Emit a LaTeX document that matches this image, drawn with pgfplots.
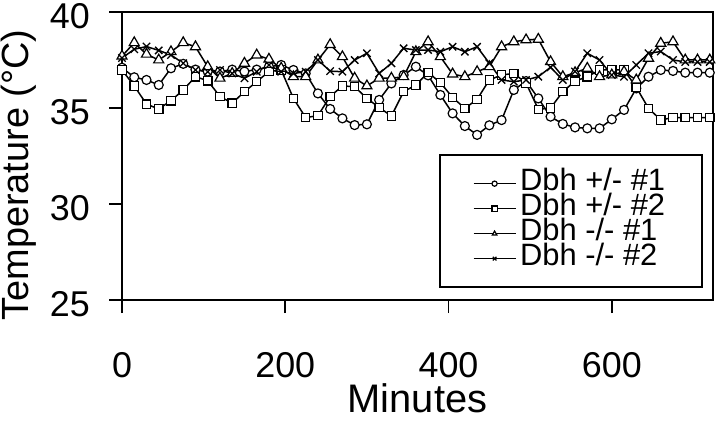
\documentclass[border=0pt]{standalone}
\usepackage{pgfplots}
\pgfplotsset{compat=1.18}
\usepackage{fontspec}
\setmainfont{Liberation Sans}

\pgfplotstableread{
t A B C D
0 37.10 36.98 37.70 37.60
15 36.60 36.15 38.40 38.06
30 36.46 35.20 37.80 38.20
45 36.20 34.95 37.50 38.00
60 37.07 35.38 37.93 37.76
75 37.30 35.94 38.40 37.33
90 37.00 36.63 38.19 36.98
105 36.90 36.42 37.15 36.89
120 36.90 35.60 36.55 36.98
135 37.00 35.25 36.80 36.80
150 36.90 35.85 37.33 36.55
165 37.00 36.37 37.76 36.89
180 37.15 36.90 37.54 37.24
195 37.24 36.98 37.07 36.89
210 36.98 35.50 36.63 36.80
225 36.80 34.50 36.63 36.89
240 35.76 34.60 37.50 37.50
255 34.95 35.60 38.30 36.92
270 34.46 36.15 37.67 36.89
285 34.11 36.11 36.55 37.50
300 34.15 35.50 36.15 37.85
315 35.42 35.03 36.55 36.80
330 36.28 34.58 36.55 37.33
345 36.72 35.85 36.63 38.11
360 37.15 36.20 37.93 38.02
375 36.70 36.85 38.45 38.02
390 35.68 36.32 37.67 37.93
405 34.72 35.55 36.77 38.19
420 34.06 34.98 36.63 37.93
435 33.60 35.45 36.89 38.19
450 34.10 36.46 37.15 37.33
465 34.37 36.72 38.19 36.46
480 35.94 36.80 38.45 36.37
495 36.40 36.30 38.55 36.46
510 35.50 34.93 38.58 36.63
525 34.55 35.00 37.41 37.12
540 34.17 35.85 36.63 36.46
555 33.99 36.40 36.84 36.90
570 33.94 36.63 37.07 37.85
585 33.94 36.98 36.63 37.50
600 34.41 36.98 36.72 36.72
615 34.90 36.98 36.89 36.63
630 36.02 36.08 36.46 37.24
645 36.63 34.98 37.59 37.85
660 36.98 34.38 38.37 37.94
675 36.93 34.50 38.45 37.50
690 36.84 34.50 37.50 37.40
705 36.84 34.50 37.50 37.40
720 36.84 34.50 37.50 37.40
}\datatable

\begin{document}
\begin{tikzpicture}
\begin{axis}[
  name=ax,
  scale only axis, width=591bp, height=288bp,
  xmin=0, xmax=724, ymin=25, ymax=40,
  xtick={0,200,400,600}, ytick={25,30,35,40},
  tick align=outside, major tick length=13bp,
  xtick pos=bottom, ytick pos=left,
  axis line style={line width=1.6bp},
  every tick/.style={black, line width=1.6bp},
  /pgf/number format/assume math mode=true,
  ticklabel style={font=\fontsize{36}{36}\selectfont, inner sep=0pt},
  xticklabel style={anchor=base, yshift=-64bp},
  yticklabel style={anchor=east, xshift=-19bp, yshift=-4bp},
  xlabel={Minutes}, ylabel={Temperature (°C)},
  xlabel style={font=\fontsize{40}{40}\selectfont, at={(axis description cs:0.5,-0.392)}, anchor=base, inner sep=0pt},
  ylabel style={font=\fontsize{38}{38}\selectfont, at={(axis description cs:-0.174,0.434)}, anchor=center, inner sep=0pt},
  legend style={at={(axis description cs:0.983,0.042)}, anchor=south east, draw=black, line width=1.5bp,
    font=\fontsize{31}{31}\selectfont, inner xsep=33bp, inner ysep=16bp, row sep=0bp,
    cells={anchor=west},
    nodes={inner xsep=4bp, inner ysep=0bp, text height=19bp, text depth=6bp}},
  legend image code/.code={\draw[mark repeat=2, mark phase=2, #1, line width=1.1bp, mark size=2.6bp] plot coordinates {(0bp,0bp) (21bp,0bp) (42bp,0bp)};},
]
\addplot[black, line width=1.5bp, mark=*, mark size=4.5bp, mark options={solid, fill=white, line width=1.2bp}] table[x=t, y=A] {\datatable};
\addlegendentry{Dbh +/- \#1}
\addplot[black, line width=1.5bp, mark=square*, mark size=4.2bp, mark options={solid, fill=white, line width=1.2bp}] table[x=t, y=B] {\datatable};
\addlegendentry{Dbh +/- \#2}
\addplot[black, line width=1.5bp, mark=triangle*, mark size=5.8bp, mark options={solid, fill=white, line width=1.2bp}] table[x=t, y=C] {\datatable};
\addlegendentry{Dbh -/- \#1}
\addplot[black, line width=1.5bp, mark=x, mark size=5.2bp, mark options={solid, line width=1.3bp}] table[x=t, y=D] {\datatable};
\addlegendentry{Dbh -/- \#2}
\end{axis}
\pgfresetboundingbox
\path[use as bounding box] ([shift={(-122bp,-122bp)}]ax.south west) rectangle ([shift={(7bp,12bp)}]ax.north east);
\end{tikzpicture}
\end{document}
